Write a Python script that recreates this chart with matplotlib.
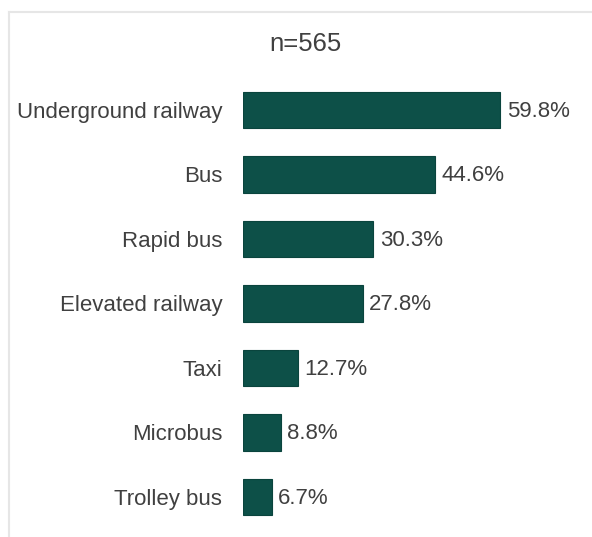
import matplotlib
matplotlib.use("Agg")
import matplotlib.pyplot as plt
from matplotlib.lines import Line2D

plt.rcParams['font.family'] = ['Liberation Sans', 'DejaVu Sans']

categories = ["Underground railway", "Bus", "Rapid bus", "Elevated railway",
              "Taxi", "Microbus", "Trolley bus"]
shares = [59.8, 44.6, 30.3, 27.8, 12.7, 8.8, 6.7]
sample_label = "n=565"

W, H = 592, 537
fig = plt.figure(figsize=(W / 100, H / 100), dpi=100)
fig.patch.set_facecolor("white")

# light frame along the top and left edges
fig.add_artist(Line2D([9 / W, 1], [1 - 12 / H, 1 - 12 / H], color="#e6e6e6", lw=1.5))
fig.add_artist(Line2D([9 / W, 9 / W], [0, 1 - 12 / H], color="#e6e6e6", lw=1.5))

left, right = 243, 587
top, bottom = 77.75, 529.25
ax = fig.add_axes([left / W, 1 - bottom / H, (right - left) / W, (bottom - top) / H])
ax.set_facecolor("none")

bar_color = "#0d5048"
text_color = "#404040"
ypos = list(range(len(categories)))
ax.barh(ypos, shares, height=0.57, color=bar_color, edgecolor="#0a443d", lw=0.8)

for y, v in zip(ypos, shares):
    ax.text(v + 1.5, y + 0.02, f"{v}%", va="center", ha="left", fontsize=16,
            color=text_color)

ax.set_yticks(ypos)
ax.set_yticklabels(categories, fontsize=16, color=text_color)
ax.tick_params(axis="y", length=0, pad=15)
ax.set_xticks([])
ax.set_xlim(0, 80)
ax.set_ylim(len(categories) - 0.5, -0.5)
for s in ax.spines.values():
    s.set_visible(False)

fig.text(305 / W, 1 - 44 / H, sample_label, ha="center", va="center",
         fontsize=18.5, color=text_color)

fig.savefig("out.png", dpi=100, facecolor="white")
